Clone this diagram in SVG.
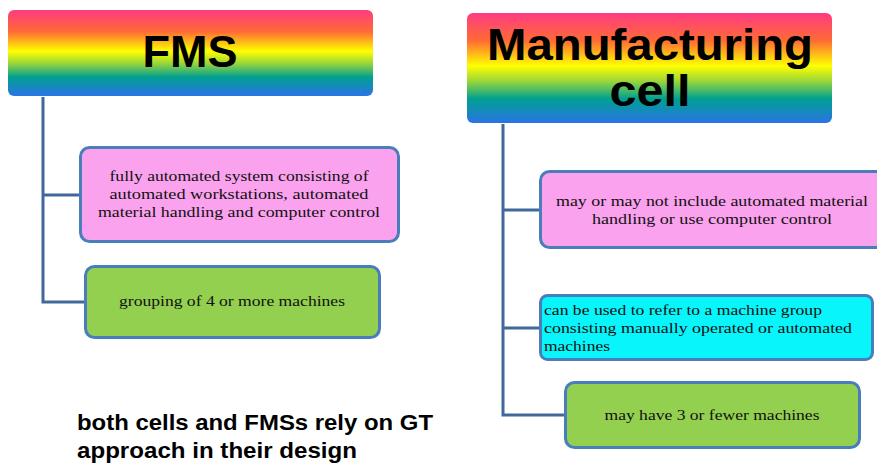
<svg xmlns="http://www.w3.org/2000/svg" width="877" height="465" viewBox="0 0 877 465">
  <defs>
    <!-- rainbow fill for the two heading boxes -->
    <linearGradient id="rainbow" x1="0" y1="0" x2="0" y2="1">
      <stop offset="0" stop-color="#ff3b82"/>
      <stop offset="0.25" stop-color="#ff6a35"/>
      <stop offset="0.48" stop-color="#ffff00"/>
      <stop offset="0.62" stop-color="#9ad63a"/>
      <stop offset="0.78" stop-color="#00a090"/>
      <stop offset="1" stop-color="#2a74e6"/>
    </linearGradient>
  </defs>
  <style>
    .head { fill: url(#rainbow); }
    .head-text { font-family: "Liberation Sans", Arial, sans-serif; font-weight: bold; font-size: 45px; fill: #000; text-anchor: middle; }
    .box { stroke: #4a7ebb; stroke-width: 3; }
    .pink { fill: #fba2ef; }
    .green { fill: #93d050; }
    .cyan { fill: #08f6fb; }
    .body { font-family: "Liberation Serif", "Times New Roman", serif; font-size: 15.5px; fill: #111; }
    .mid { text-anchor: middle; }
    .wire { fill: none; stroke: #41689a; stroke-width: 3; }
    .note { font-family: "Liberation Sans", Arial, sans-serif; font-weight: bold; font-size: 22px; fill: #000; }
  </style>

  <!-- connectors -->
  <g id="connectors">
    <path class="wire" d="M43,97 V302 H86 M43,195 H81"/>
    <path class="wire" d="M503,124 V415 H566 M503,210 H541 M503,328 H541"/>
  </g>

  <!-- FMS column -->
  <g id="fms">
    <rect class="head" x="8" y="10" width="365" height="86" rx="6"/>
    <text class="head-text" x="190" y="67">FMS</text>
  </g>
  <g id="fms-automation">
    <rect class="box pink" x="80.5" y="147.5" width="318" height="94" rx="9"/>
    <text class="body mid" x="239" y="181" textLength="259" lengthAdjust="spacingAndGlyphs">fully automated system consisting of</text>
    <text class="body mid" x="239" y="199" textLength="259" lengthAdjust="spacingAndGlyphs">automated workstations,  automated</text>
    <text class="body mid" x="239" y="217" textLength="282" lengthAdjust="spacingAndGlyphs">material handling and computer control</text>
  </g>
  <g id="fms-size">
    <rect class="box green" x="85.5" y="266.5" width="294" height="71" rx="9"/>
    <text class="body mid" x="232" y="306" textLength="226" lengthAdjust="spacingAndGlyphs">grouping of 4 or more machines</text>
  </g>

  <!-- Manufacturing cell column -->
  <g id="cell">
    <rect class="head" x="467" y="13" width="365" height="110" rx="6"/>
    <text class="head-text" x="650" y="60" textLength="326" lengthAdjust="spacingAndGlyphs">Manufacturing</text>
    <text class="head-text" x="650" y="106" textLength="81" lengthAdjust="spacingAndGlyphs">cell</text>
  </g>
  <g id="cell-automation">
    <rect class="box pink" x="540.5" y="171.5" width="345" height="76" rx="9"/>
    <text class="body mid" x="712" y="206" textLength="312" lengthAdjust="spacingAndGlyphs">may or may not include automated material</text>
    <text class="body mid" x="712" y="224" textLength="240" lengthAdjust="spacingAndGlyphs">handling  or use computer control</text>
  </g>
  <g id="cell-scope">
    <rect class="box cyan" x="540.5" y="295.5" width="332" height="64" rx="7"/>
    <text class="body" x="544" y="315" textLength="278" lengthAdjust="spacingAndGlyphs">can be used to refer to a machine group</text>
    <text class="body" x="544" y="333" textLength="308" lengthAdjust="spacingAndGlyphs">consisting manually operated or automated</text>
    <text class="body" x="544" y="351" textLength="66" lengthAdjust="spacingAndGlyphs">machines</text>
  </g>
  <g id="cell-size">
    <rect class="box green" x="565.5" y="382.5" width="294" height="65" rx="9"/>
    <text class="body mid" x="712" y="420" textLength="215" lengthAdjust="spacingAndGlyphs">may have 3 or fewer machines</text>
  </g>

  <!-- closing remark -->
  <g id="remark">
    <text class="note" x="77" y="430" textLength="356" lengthAdjust="spacingAndGlyphs">both cells and FMSs rely on GT</text>
    <text class="note" x="77" y="458" textLength="280" lengthAdjust="spacingAndGlyphs">approach in their design</text>
  </g>
</svg>
